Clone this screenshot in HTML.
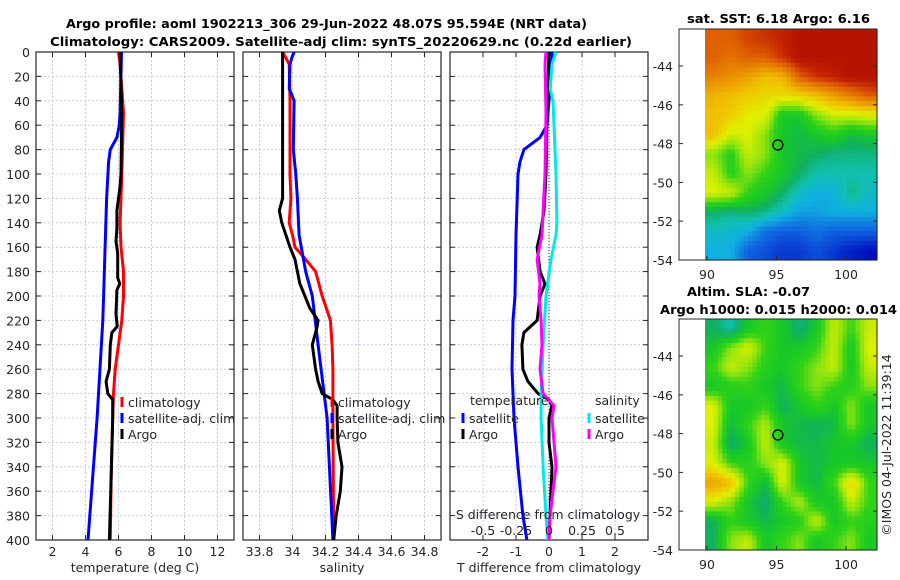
<!DOCTYPE html>
<html><head><meta charset="utf-8">
<style>
html,body{margin:0;padding:0;background:#fff;}
svg{display:block;font-family:"DejaVu Sans","Liberation Sans",sans-serif;}
text{fill:#262626;font-size:12.5px;}
.b{font-weight:bold;fill:#000;font-size:12.5px;}
</style></head>
<body>
<svg id="chart" width="900" height="580" viewBox="0 0 900 580">
<text class="b" x="66" y="28" textLength="521" lengthAdjust="spacingAndGlyphs">Argo profile: aoml 1902213_306 29-Jun-2022 48.07S 95.594E (NRT data)</text>
<text class="b" x="50" y="46" textLength="582" lengthAdjust="spacingAndGlyphs">Climatology: CARS2009. Satellite-adj clim: synTS_20220629.nc (0.22d earlier)</text>
<text class="b" x="687" y="23" textLength="183" lengthAdjust="spacingAndGlyphs">sat. SST: 6.18 Argo: 6.16</text>
<text class="b" x="687" y="296" textLength="123" lengthAdjust="spacingAndGlyphs">Altim. SLA: -0.07</text>
<text class="b" x="660" y="314" textLength="237" lengthAdjust="spacingAndGlyphs">Argo h1000: 0.015 h2000: 0.014</text>
<text x="891" y="445" text-anchor="middle" transform="rotate(-90 891 445)">©IMOS 04-Jul-2022 11:39:14</text>
<g id="plots"></g>
</svg>
<script>
// ---- data ----
const depthTicks=[0,20,40,60,80,100,120,140,160,180,200,220,240,260,280,300,320,340,360,380,400];
const tempTicks=[2,4,6,8,10,12];
const salTicks=[33.8,34,34.2,34.4,34.6,34.8];
const dTTicks=[-2,-1,0,1,2];
const dSTicks=[-0.5,-0.25,0,0.25,0.5];
const dSTickLabels=['-0.5','-0.25','0','0.25','0.5'];
const climTD=[0,10,50,100,140,160,180,200,220,240,260,280,300,350,400];
const climT=[6.0,6.1,6.3,6.2,6.1,6.15,6.3,6.3,6.2,6.0,5.8,5.7,5.65,5.55,5.5];
const satTD=[0,50,60,70,80,90,120,200,220,300,400];
const satT=[6.18,6.1,6.05,5.9,5.5,5.4,5.28,5.1,5.05,4.7,4.15];
const argoTD=[0,50,100,110,130,145,155,165,185,190,195,215,225,230,240,260,270,280,285,300,350,400];
const argoT=[6.1,6.2,6.15,6.1,5.9,5.9,5.85,5.95,5.95,6.08,5.9,5.85,5.92,5.6,5.5,5.45,5.25,5.35,5.65,5.65,5.55,5.45];
const climSD=[0,10,40,100,120,140,150,160,170,180,200,220,240,260,300,400];
const climS=[33.94,33.98,33.985,33.985,33.99,33.98,34.0,34.015,34.08,34.14,34.18,34.23,34.24,34.245,34.245,34.25];
const satSD=[0,5,10,30,35,40,80,100,120,150,180,200,240,300,400];
const satS=[34.01,33.995,33.985,33.98,33.995,34.01,34.005,34.02,34.03,34.04,34.08,34.12,34.155,34.21,34.245];
const argoSD=[0,100,120,130,140,150,160,170,180,190,200,210,220,225,240,260,270,280,285,290,300,320,340,360,380,400];
const argoS=[33.94,33.94,33.94,33.92,33.935,33.96,33.985,34.015,34.03,34.045,34.075,34.105,34.155,34.15,34.12,34.14,34.155,34.18,34.245,34.27,34.27,34.275,34.3,34.29,34.265,34.25];
const dTsatD=[0,20,60,70,80,90,100,150,200,220,260,300,340,380,400];
const dTsat=[0.09,0.06,-0.06,-0.27,-0.76,-0.88,-0.94,-1.0,-1.03,-1.09,-1.12,-1.06,-0.94,-0.79,-0.67];
const dTargoD=[0,50,100,130,150,160,180,190,200,220,230,240,260,270,280,285,290,300,320,340,360,380,400];
const dTargo=[0,-0.06,-0.09,-0.15,-0.27,-0.36,-0.27,-0.12,-0.27,-0.36,-0.76,-0.82,-0.79,-0.64,-0.33,0,0.09,0,0,0.09,0.06,0.03,0];
const dSsatD=[0,10,30,40,60,100,140,150,170,200,240,280,300,340,380,400];
const dSsat=[0.053,0.023,0.008,0.03,0.038,0.053,0.06,0.053,0.015,-0.023,-0.045,-0.06,-0.06,-0.045,-0.023,-0.008];
const dSargoD=[0,10,50,100,130,150,170,190,200,220,240,260,280,290,300,340,360,380,400];
const dSargo=[-0.023,-0.03,-0.023,-0.03,-0.045,-0.053,-0.09,-0.068,-0.076,-0.06,-0.053,-0.068,-0.045,0.038,0.023,0.053,0.03,0.008,0];
const latTicks=[-44,-46,-48,-50,-52,-54];
const lonTicks=[90,95,100];
const sstGrid=[
[0.85,0.85,0.88,0.9,0.92,0.95,0.95,0.95,0.95,0.95],
[0.85,0.82,0.85,0.85,0.9,0.95,0.95,0.95,0.95,0.95],
[0.8,0.78,0.75,0.7,0.72,0.85,0.9,0.92,0.95,0.95],
[0.72,0.7,0.68,0.66,0.65,0.66,0.7,0.75,0.8,0.85],
[0.7,0.68,0.62,0.62,0.45,0.45,0.55,0.6,0.6,0.62],
[0.7,0.6,0.62,0.55,0.45,0.42,0.45,0.48,0.42,0.45],
[0.55,0.48,0.6,0.55,0.45,0.42,0.4,0.38,0.38,0.38],
[0.6,0.48,0.55,0.5,0.45,0.4,0.35,0.35,0.35,0.35],
[0.62,0.6,0.5,0.45,0.4,0.33,0.3,0.3,0.38,0.33],
[0.4,0.38,0.4,0.38,0.33,0.28,0.28,0.3,0.3,0.3],
[0.33,0.32,0.3,0.22,0.2,0.2,0.22,0.2,0.2,0.2],
[0.3,0.3,0.2,0.18,0.15,0.15,0.18,0.15,0.12,0.1]];
const slaGrid=[
[0.4,0.35,0.45,0.5,0.45,0.38,0.45,0.6,0.5,0.6],
[0.45,0.55,0.62,0.5,0.45,0.45,0.5,0.6,0.45,0.62],
[0.5,0.6,0.55,0.48,0.45,0.5,0.55,0.6,0.45,0.6],
[0.45,0.48,0.5,0.45,0.42,0.5,0.55,0.5,0.48,0.55],
[0.62,0.45,0.45,0.5,0.4,0.45,0.5,0.45,0.55,0.45],
[0.62,0.42,0.5,0.58,0.45,0.42,0.4,0.42,0.55,0.45],
[0.6,0.38,0.45,0.6,0.45,0.42,0.42,0.45,0.45,0.4],
[0.62,0.5,0.48,0.55,0.62,0.45,0.42,0.45,0.45,0.45],
[0.75,0.7,0.5,0.42,0.62,0.45,0.42,0.5,0.68,0.5],
[0.62,0.55,0.45,0.38,0.5,0.58,0.45,0.45,0.6,0.5],
[0.4,0.5,0.45,0.42,0.45,0.48,0.6,0.45,0.5,0.48],
[0.4,0.55,0.6,0.45,0.5,0.55,0.45,0.5,0.55,0.45]];
const argoLon=95.1, argoLat=-48.07;

// ---- drawing ----
const NS='http://www.w3.org/2000/svg';
const root=document.getElementById('plots');
function mk(tag,attrs,parent,txt){const e=document.createElementNS(NS,tag);for(const k in attrs)e.setAttribute(k,attrs[k]);if(txt!==undefined)e.textContent=txt;(parent||root).appendChild(e);return e;}
const TOP=52,BOT=540;
const yD=d=>TOP+(d/400)*(BOT-TOP);
function lin(d0,d1,r0,r1){return v=>r0+(v-d0)/(d1-d0)*(r1-r0);}

function panel(name,x0,x1,xs,xticks,xlabels,ylabels,title){
  const g=mk('g',{});
  
  
  depthTicks.forEach(d=>{const l=mk('line',{x1:x0,x2:x1,y1:yD(d),y2:yD(d),stroke:'#c4cbe6','stroke-width':1,'stroke-dasharray':'2,2'},g);});
  xticks.forEach(v=>{const l=mk('line',{x1:xs(v),x2:xs(v),y1:TOP,y2:BOT,stroke:'#c4cbe6','stroke-width':1,'stroke-dasharray':'2,2'},g);});
  const box=mk('rect',{x:x0,y:TOP,width:x1-x0,height:BOT-TOP,fill:'none',stroke:'#262626','stroke-width':1.2},g);
  
  depthTicks.forEach(d=>{mk('line',{x1:x0,x2:x0+5,y1:yD(d),y2:yD(d),stroke:'#262626'},g);mk('line',{x1:x1-5,x2:x1,y1:yD(d),y2:yD(d),stroke:'#262626'},g);
    if(ylabels){const t=mk('text',{x:x0-6,y:yD(d)+5,'text-anchor':'end'},g,String(d));}});
  xticks.forEach((v,i)=>{mk('line',{x1:xs(v),x2:xs(v),y1:BOT,y2:BOT-5,stroke:'#262626'},g);mk('line',{x1:xs(v),x2:xs(v),y1:TOP,y2:TOP+5,stroke:'#262626'},g);
    const t=mk('text',{x:xs(v),y:BOT+16,'text-anchor':'middle'},g,xlabels[i]);});
  const tt=mk('text',{x:(x0+x1)/2,y:572,'text-anchor':'middle'},g,title);
  
  return g;
}
function series(g,name,depths,vals,xs,color){
  const pts=depths.map((d,i)=>xs(vals[i]).toFixed(1)+','+yD(d).toFixed(1)).join(' ');
  const p=mk('polyline',{points:pts,fill:'none',stroke:color,'stroke-width':3,'stroke-linejoin':'round'},g);
  
  
}
function legend(g,name,x,y,color,label){
  const e=mk('g',{},g);
  
  
  mk('line',{x1:x,x2:x,y1:y-10,y2:y,stroke:color,'stroke-width':3},e);
  mk('text',{x:x+6,y:y},e,label);
}

// temperature panel
const xT=lin(1,13,36,234);
const gT=panel('temperature-panel',36,234,xT,tempTicks,tempTicks.map(String),true,'temperature (deg C)');
series(gT,'temperature-climatology-line',climTD,climT,xT,'#ff0000');
series(gT,'temperature-satellite-line',satTD,satT,xT,'#0000ff');
series(gT,'temperature-argo-line',argoTD,argoT,xT,'#000000');
legend(gT,'legend-climatology',122,407,'#ff0000','climatology');
legend(gT,'legend-satellite-adj',122,423,'#0000ff','satellite-adj. clim');
legend(gT,'legend-argo',122,439,'#000000','Argo');

// salinity panel
const xS=lin(33.7,34.9,243,441);
const gS=panel('salinity-panel',243,441,xS,salTicks,salTicks.map(String),false,'salinity');
series(gS,'salinity-climatology-line',climSD,climS,xS,'#ff0000');
series(gS,'salinity-satellite-line',satSD,satS,xS,'#0000ff');
series(gS,'salinity-argo-line',argoSD,argoS,xS,'#000000');
legend(gS,'legend-climatology',332,407,'#ff0000','climatology');
legend(gS,'legend-satellite-adj',332,423,'#0000ff','satellite-adj. clim');
legend(gS,'legend-argo',332,439,'#000000','Argo');

// difference panel
const xD=lin(-3,3,450,648);
const xDS=lin(-0.75,0.75,450,648);
const gD=panel('difference-panel',450,648,xD,dTTicks,dTTicks.map(String),false,'T difference from climatology');
mk('line',{x1:xD(0),x2:xD(0),y1:TOP,y2:BOT,stroke:'#333','stroke-width':1,'stroke-dasharray':'1,2'},gD);
series(gD,'t-diff-satellite-line',dTsatD,dTsat,xD,'#0000ff');
series(gD,'t-diff-argo-line',dTargoD,dTargo,xD,'#000000');
series(gD,'s-diff-satellite-line',dSsatD,dSsat,xDS,'#00e8e8');
series(gD,'s-diff-argo-line',dSargoD,dSargo,xDS,'#ff00ff');
const lt=mk('text',{x:470,y:405},gD,'temperature');
const ls=mk('text',{x:595,y:405},gD,'salinity');
legend(gD,'legend-t-satellite',463,423,'#0000ff','satellite');
legend(gD,'legend-t-argo',463,439,'#000000','Argo');
legend(gD,'legend-s-satellite',589,423,'#00e8e8','satellite');
legend(gD,'legend-s-argo',589,439,'#ff00ff','Argo');
const st=mk('text',{x:548,y:519,'text-anchor':'middle'},gD,'S difference from climatology');

dSTicks.forEach((v,i)=>{const t=mk('text',{x:xDS(v),y:535,'text-anchor':'middle'},gD,dSTickLabels[i]);});

// maps
const stops=[[0,[0,0,127]],[0.1,[0,16,192]],[0.2,[16,96,224]],[0.3,[16,176,224]],[0.35,[16,192,176]],[0.4,[16,176,96]],[0.45,[24,200,40]],[0.5,[48,210,24]],[0.55,[140,226,16]],[0.62,[224,240,0]],[0.7,[240,192,0]],[0.78,[232,144,0]],[0.85,[224,96,0]],[0.92,[192,32,0]],[1,[160,0,0]]];
function cmap(v){for(let i=1;i<stops.length;i++){if(v<=stops[i][0]){const a=stops[i-1],b=stops[i],t=(v-a[0])/(b[0]-a[0]);const c=a[1].map((x,k)=>Math.round(x+(b[1][k]-x)*t));return 'rgb('+c.join(',')+')';}}return 'rgb(160,0,0)';}
function sample(grid,r,c){ // bilinear sample at fractional cell coords
  const R=grid.length,C=grid[0].length;
  r=Math.max(0,Math.min(R-1,r));c=Math.max(0,Math.min(C-1,c));
  const r0=Math.floor(r),c0=Math.floor(c),r1=Math.min(R-1,r0+1),c1=Math.min(C-1,c0+1),fr=r-r0,fc=c-c0;
  return grid[r0][c0]*(1-fr)*(1-fc)+grid[r0][c1]*(1-fr)*fc+grid[r1][c0]*fr*(1-fc)+grid[r1][c1]*fr*fc;
}
function map(name,grid,boxTop,boxBot){
  const g=mk('g',{});
  
  
  const bx0=679,bx1=877,px0=705;
  const xl=lin(90,100,707,846);
  const yl=lin(-44,-54,boxBot-194,boxBot);
  const rows=grid.length,cols=grid[0].length,up=4;
  const cw=(bx1-px0)/(cols*up),ch=(boxBot-boxTop)/(rows*up);
  for(let r=0;r<rows*up;r++)for(let c=0;c<cols*up;c++){
    const v=sample(grid,(r+0.5)/up-0.5,(c+0.5)/up-0.5);
    const cell=mk('rect',{x:(px0+c*cw).toFixed(2),y:(boxTop+r*ch).toFixed(2),width:(cw+0.6).toFixed(2),height:(ch+0.6).toFixed(2),fill:cmap(v)},g);
    
    
  }
  const b=mk('rect',{x:bx0,y:boxTop,width:bx1-bx0,height:boxBot-boxTop,fill:'none',stroke:'#262626','stroke-width':1},g);
  
  latTicks.forEach(v=>{mk('line',{x1:bx0,x2:bx0+4,y1:yl(v),y2:yl(v),stroke:'#262626'},g);mk('line',{x1:bx1-4,x2:bx1,y1:yl(v),y2:yl(v),stroke:'#262626'},g);
    const t=mk('text',{x:bx0-6,y:yl(v)+5,'text-anchor':'end'},g,String(v));});
  lonTicks.forEach(v=>{mk('line',{x1:xl(v),x2:xl(v),y1:boxBot,y2:boxBot-4,stroke:'#262626'},g);
    const t=mk('text',{x:xl(v),y:boxBot+19,'text-anchor':'middle'},g,String(v));});
  const m=mk('circle',{cx:xl(argoLon),cy:yl(argoLat),r:5,fill:'none',stroke:'#000','stroke-width':1.3},g);
  
}
map('sst-map',sstGrid,29,260);
map('sla-map',slaGrid,319,550);
</script>
</body></html>
